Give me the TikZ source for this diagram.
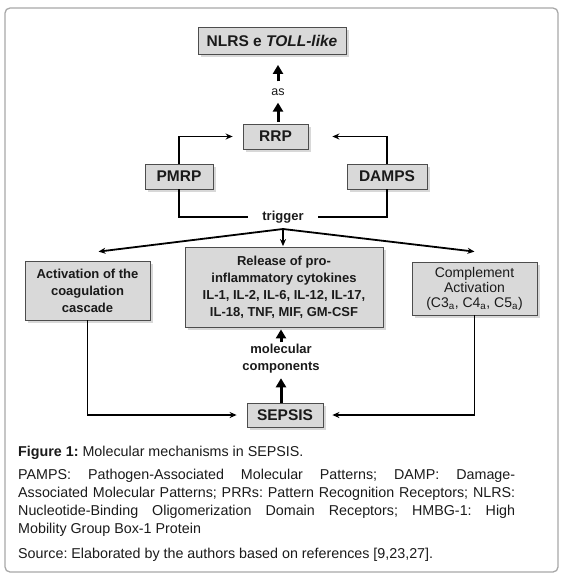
\documentclass[tikz,border=0pt]{standalone}
\usepackage{fontspec}
\setmainfont{Liberation Sans}
\usetikzlibrary{arrows.meta,shadows}
\definecolor{boxfill}{HTML}{D9D9D9}
\definecolor{boxline}{HTML}{4D4D4D}
\definecolor{framegray}{HTML}{A8A8A8}
\definecolor{ink}{HTML}{1A1A1A}
\begin{document}
\begin{tikzpicture}[x=1pt,y=-1pt,
    box/.style={draw=boxline,fill=boxfill,line width=0.8pt,inner sep=0pt,align=center,text=ink,
      drop shadow={shadow xshift=2.5pt,shadow yshift=-2.5pt,fill=black!30,opacity=0.5}},
    big/.style={box,font=\fontsize{15.5}{18}\selectfont\bfseries},
    small/.style={box,font=\fontsize{13}{17}\selectfont\bfseries},
    plain/.style={box,font=\fontsize{14}{15}\selectfont},
    word/.style={font=\fontsize{13}{17}\selectfont\bfseries,text=ink,align=center,inner sep=1pt},
    fat/.style={line width=3pt,-{Triangle[length=9pt,width=10pt]}},
    link/.style={line width=1.8pt,-{Stealth[length=7pt,width=6pt]}}]
    \useasboundingbox (0,0) rectangle (564,579);
    \draw[framegray,line width=1.3pt,rounded corners=5pt] (5,8) rectangle (558,572);
    % upper part
    \node[big,minimum width=148pt,minimum height=27pt] (nlrs) at (272,41) {NLRS e \textit{TOLL-like}};
    \node[font=\fontsize{12.5}{14}\selectfont,text=ink,inner sep=0pt] (as) at (278,92) {as};
    \node[big,minimum width=65pt,minimum height=25pt] (rrp) at (275.5,136.5) {RRP};
    \node[big,minimum width=68pt,minimum height=25pt] (pmrp) at (179,176.5) {PMRP};
    \node[big,minimum width=80pt,minimum height=25pt] (damps) at (387,176.5) {DAMPS};
    \node[word,inner xsep=14pt] (trigger) at (283,217) {trigger};
    \coordinate (split) at (283,229);
    % middle row
    \node[small,minimum width=125pt,minimum height=59pt] (coag) at (87.5,290.5)
      {Activation of the\\coagulation\\cascade};
    \node[small,minimum width=198pt,minimum height=80pt] (release) at (284,287)
      {Release of pro-\\inflammatory cytokines\\IL-1, IL-2, IL-6, IL-12, IL-17,\\IL-18, TNF, MIF, GM-CSF};
    \node[plain,minimum width=125pt,minimum height=53pt] (complement) at (474.5,288.5)
      {Complement\\Activation\\(C3\textsubscript{a}, C4\textsubscript{a}, C5\textsubscript{a})};
    % lower part
    \node[word] (mol) at (281,358.5) {molecular\\components};
    \node[big,minimum width=76pt,minimum height=24pt] (sepsis) at (285,415) {SEPSIS};
    % connectors
    \draw[fat,shorten <=2pt,shorten >=7pt] (rrp.north -| as) -- (as.south);
    \draw[fat,shorten <=7pt,shorten >=10pt] (as.north) -- (as |- nlrs.south);
    \draw[link,shorten >=10pt] (pmrp.north) |- (rrp.west);
    \draw[link,shorten >=24pt] (damps.north) |- (rrp.east);
    \draw[line width=1.8pt] (pmrp.south) |- (trigger.west);
    \draw[line width=1.8pt] (damps.south) |- (trigger.east);
    \draw[link] (split) -- ([xshift=11pt,yshift=9pt]coag.north);
    \draw[link] (split) -- ([yshift=10pt]complement.north);
    \draw[link,shorten >=0.5pt] (split) -- (split |- release.north);
    \draw[link,shorten >=10pt] (coag.south) |- (sepsis.west);
    \draw[link,shorten >=9pt] (complement.south) |- (sepsis.east);
    \draw[fat,shorten >=4pt] (sepsis.north -| mol) -- (mol.south);
    \draw[fat,shorten <=1pt,shorten >=2pt] (mol.north) -- (mol |- release.south);
    % caption
    \node[anchor=north west,inner sep=0pt,text width=497pt,align=justify,text=ink,
      font=\fontsize{14.3}{18}\selectfont] (caption) at (18,445.5)
      {\frenchspacing\hyphenpenalty=10000\exhyphenpenalty=10000
       \textbf{Figure 1:} Molecular mechanisms in SEPSIS.\par\vspace{5pt}
       PAMPS: Pathogen-Associated Molecular Patterns; DAMP: Damage-\linebreak
       Associated Molecular Patterns; PRRs: Pattern Recognition Receptors; NLRS:\linebreak
       Nucleotide-Binding Oligomerization Domain Receptors; HMBG-1: High\linebreak
       Mobility Group Box-1 Protein\par\vspace{7pt}
       Source: Elaborated by the authors based on references [9,23,27].};
\end{tikzpicture}
\end{document}
